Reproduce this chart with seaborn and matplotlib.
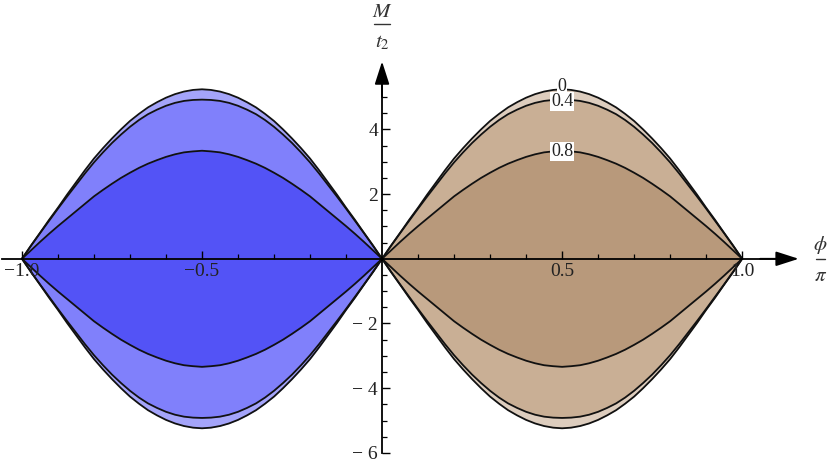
import numpy as np
import pandas as pd
import matplotlib
matplotlib.use("Agg")
import matplotlib.pyplot as plt
import seaborn as sns

# phi/pi positions (right half) and read-off values of M/t2 for the three curves
phi = [0.000, 0.025, 0.050, 0.075, 0.100, 0.125, 0.150, 0.175, 0.200, 0.225,
       0.250, 0.275, 0.300, 0.325, 0.350, 0.375, 0.400, 0.425, 0.450, 0.475,
       0.500, 0.525, 0.550, 0.575, 0.600, 0.625, 0.650, 0.675, 0.700, 0.725,
       0.750, 0.775, 0.800, 0.825, 0.850, 0.875, 0.900, 0.925, 0.950, 0.975,
       1.000]
m_0 = [0.00, 0.41, 0.80, 1.20, 1.58, 1.98, 2.36, 2.74, 3.10, 3.42,
       3.72, 4.00, 4.26, 4.48, 4.68, 4.84, 4.98, 5.09, 5.17, 5.22,
       5.24, 5.22, 5.17, 5.09, 4.98, 4.84, 4.68, 4.48, 4.26, 4.00,
       3.72, 3.42, 3.10, 2.74, 2.36, 1.98, 1.58, 1.20, 0.80, 0.41,
       0.00]
m_04 = [0.00, 0.40, 0.79, 1.17, 1.55, 1.92, 2.28, 2.64, 2.98, 3.29,
        3.58, 3.84, 4.08, 4.29, 4.47, 4.61, 4.73, 4.82, 4.88, 4.91,
        4.92, 4.91, 4.88, 4.82, 4.73, 4.61, 4.47, 4.29, 4.08, 3.84,
        3.58, 3.29, 2.98, 2.64, 2.28, 1.92, 1.55, 1.17, 0.79, 0.40,
        0.00]
m_08 = [0.00, 0.26, 0.52, 0.77, 1.01, 1.24, 1.47, 1.70, 1.93, 2.13,
        2.32, 2.50, 2.66, 2.81, 2.94, 3.05, 3.15, 3.23, 3.29, 3.32,
        3.34, 3.32, 3.29, 3.23, 3.15, 3.05, 2.94, 2.81, 2.66, 2.50,
        2.32, 2.13, 1.93, 1.70, 1.47, 1.24, 1.01, 0.77, 0.52, 0.26,
        0.00]
levels = ["0", "0.4", "0.8"]
xticks = [-1.0, -0.5, 0.5, 1.0]
xtick_labels = ["\u22121.0", "\u22120.5", "0.5", "1.0"]
yticks = [-6, -4, -2, 2, 4]
ytick_labels = ["\u2212 6", "\u2212 4", "\u2212 2", "2", "4"]

blue = ["#a4a4fa", "#8080fb", "#5353f6"]
brown = ["#ddcdbe", "#c9af95", "#b8997b"]

sns.set_style("white")
plt.rcParams["mathtext.fontset"] = "stix"
plt.rcParams["font.family"] = ["Liberation Serif", "DejaVu Serif"]

fig = plt.figure(figsize=(8.3, 4.71), dpi=100)
ax = fig.add_axes([0, 0, 1, 1])
ax.set_xlim(-1.061, 1.244)
ax.set_ylim(-6.56, 8.0)

x_r = np.array(phi)
x_l = -x_r
curves = [np.array(m_0), np.array(m_04), np.array(m_08)]

rows = []
for lev, c in zip(levels, curves):
    for side, xs in (("L", x_l), ("R", x_r)):
        for sgn in (1, -1):
            for xv, yv in zip(xs, c):
                rows.append(dict(phi=xv, M=sgn * yv, curve=f"{lev}{side}{sgn}"))
df = pd.DataFrame(rows)

for i, c in enumerate(curves):
    ax.fill_between(x_l, -c, c, color=blue[i], lw=0, zorder=1 + i)
    ax.fill_between(x_r, -c, c, color=brown[i], lw=0, zorder=1 + i)

sns.lineplot(data=df, x="phi", y="M", units="curve", estimator=None,
             color="#111111", lw=1.3, sort=False, ax=ax, zorder=5, legend=False)
ax.set_xlabel("")
ax.set_ylabel("")

# axes through origin
for s in ("top", "right"):
    ax.spines[s].set_visible(False)
ax.spines["left"].set_position(("data", 0))
ax.spines["bottom"].set_position(("data", 0))
ax.spines["left"].set_bounds(-6, 5.6)
ax.spines["bottom"].set_bounds(-1.055, 1.1)
for s in ("left", "bottom"):
    ax.spines[s].set_color("black")
    ax.spines[s].set_linewidth(1.3)
    ax.spines[s].set_zorder(6)
ax.xaxis.set_zorder(7)
ax.yaxis.set_zorder(7)

ax.annotate("", xy=(1.157, 0), xytext=(1.05, 0),
            arrowprops=dict(arrowstyle="-|>,head_length=1.4,head_width=0.45",
                            color="black", lw=1.3, shrinkA=0, shrinkB=0), zorder=7)
ax.annotate("", xy=(0, 6.1), xytext=(0, 5.0),
            arrowprops=dict(arrowstyle="-|>,head_length=1.4,head_width=0.45",
                            color="black", lw=1.3, shrinkA=0, shrinkB=0), zorder=7)

ax.set_xticks(xticks)
ax.set_xticklabels(xtick_labels)
ax.set_xticks([v / 10 for v in range(-9, 10) if v not in (-5, 0, 5)], minor=True)
ax.set_yticks(yticks)
ax.set_yticklabels(ytick_labels)
ax.set_yticks([-5.5, -5, -4.5, -3.5, -3, -2.5, -1.5, -1, -0.5,
               0.5, 1, 1.5, 2.5, 3, 3.5, 4.5, 5], minor=True)
ax.tick_params(axis="both", which="both", bottom=True, left=True, top=False, right=False)
ax.tick_params(axis="both", which="major", direction="in", length=5.5, width=1.0,
               labelsize=14, colors="black", labelcolor="#222222")
ax.tick_params(axis="both", which="minor", direction="in", length=3.5, width=0.9,
               colors="black")
ax.tick_params(axis="x", which="major", pad=3)
ax.tick_params(axis="y", which="major", pad=3)

# contour labels
for lev, yv in zip(levels, [5.34, 4.86, 3.31]):
    ax.text(0.5, yv, lev, ha="center", va="center", fontsize=13, color="#222222",
            zorder=9, bbox=dict(boxstyle="square,pad=0.05", fc="white", ec="none"))

# axis labels (fractions)
ax.text(0.0, 7.62, r"$M$", ha="center", va="center", fontsize=15, color="#333333")
ax.plot([-0.022, 0.022], [7.27, 7.27], color="#333333", lw=1.0, clip_on=False)
ax.text(0.0, 6.68, r"$t_2$", ha="center", va="center", fontsize=15, color="#333333")
ax.text(1.217, 0.42, r"$\phi$", ha="center", va="center", fontsize=15, color="#333333")
ax.plot([1.205, 1.23], [0.0, 0.0], color="#333333", lw=1.0)
ax.text(1.217, -0.55, r"$\pi$", ha="center", va="center", fontsize=15, color="#333333")

fig.savefig("out.png", dpi=100)
